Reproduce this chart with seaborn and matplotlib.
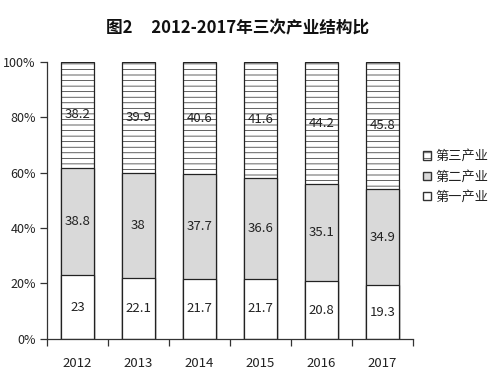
import matplotlib
matplotlib.use("Agg")
import matplotlib.pyplot as plt
import seaborn as sns
import pandas as pd
import numpy as np
from matplotlib.ticker import PercentFormatter, FixedLocator
from matplotlib.patches import Patch

years = ["2012", "2013", "2014", "2015", "2016", "2017"]
primary = [23, 22.1, 21.7, 21.7, 20.8, 19.3]
secondary = [38.8, 38, 37.7, 36.6, 35.1, 34.9]
tertiary = [38.2, 39.9, 40.6, 41.6, 44.2, 45.8]
labels = ["第一产业", "第二产业", "第三产业"]
title = "图2     2012-2017年三次产业结构比"

sns.set_theme(style="white")
plt.rcParams['font.family'] = ['Noto Sans CJK SC', 'DejaVu Sans']
plt.rcParams['hatch.linewidth'] = 0.5
plt.rcParams['hatch.color'] = '#b8b8b8'

df = pd.DataFrame({"year": years, "p": primary, "s": secondary, "t": tertiary})
df["ps"] = df["p"] + df["s"]
df["pst"] = df["ps"] + df["t"]

fig = plt.figure(figsize=(5.0, 3.79), dpi=100)
ax = fig.add_axes([0.094, 0.106, 0.732, 0.730])

w = 0.54
sns.barplot(data=df, x="year", y="pst", ax=ax, color="white", edgecolor="#222222",
            linewidth=0.9, width=w, hatch="---", saturation=1)
sns.barplot(data=df, x="year", y="ps", ax=ax, color="#d9d9d9", edgecolor="#222222",
            linewidth=0.9, width=w, saturation=1)
sns.barplot(data=df, x="year", y="p", ax=ax, color="white", edgecolor="#222222",
            linewidth=0.9, width=w, saturation=1)

for i in range(len(years)):
    for bottom, val in [(0, primary[i]), (primary[i], secondary[i]), (primary[i] + secondary[i], tertiary[i])]:
        ax.text(i, bottom + val / 2, f"{val:g}", ha="center", va="center", fontsize=9.5,
                color="#222222")

ax.set_ylim(0, 100)
ax.set_xlim(-0.5, len(years) - 0.5)
ax.yaxis.set_major_locator(FixedLocator([0, 20, 40, 60, 80, 100]))
ax.yaxis.set_major_formatter(PercentFormatter(100, decimals=0))
ax.set_xlabel("")
ax.set_ylabel("")
for s in ["top", "right"]:
    ax.spines[s].set_visible(False)
for s in ["left", "bottom"]:
    ax.spines[s].set_color("#333333")
    ax.spines[s].set_linewidth(0.9)
ax.tick_params(axis="y", left=True, length=5, width=0.9, color="#333333", labelsize=9, pad=3,
               labelcolor="#222222")
ax.tick_params(axis="x", bottom=False, labelsize=9.5, pad=7, labelcolor="#222222")
ax.set_xticks(np.arange(-0.5, len(years), 1.0), minor=True)
ax.tick_params(axis="x", which="minor", bottom=True, length=5, width=0.9, color="#333333")

handles = [Patch(facecolor="white", edgecolor="#333333", hatch="---", label=labels[2]),
           Patch(facecolor="#d9d9d9", edgecolor="#333333", label=labels[1]),
           Patch(facecolor="white", edgecolor="#333333", label=labels[0])]
ax.legend(handles=handles, loc="center left", bbox_to_anchor=(0.995, 0.585), frameon=False,
          fontsize=9.5, handlelength=0.6, handleheight=0.6, handletextpad=0.3, labelspacing=0.55,
          labelcolor="#222222")

fig.text(0.475, 0.925, title, ha="center", va="center", fontsize=12, fontweight="bold",
         color="#111111")

fig.savefig("out.png", dpi=100, facecolor="white")
